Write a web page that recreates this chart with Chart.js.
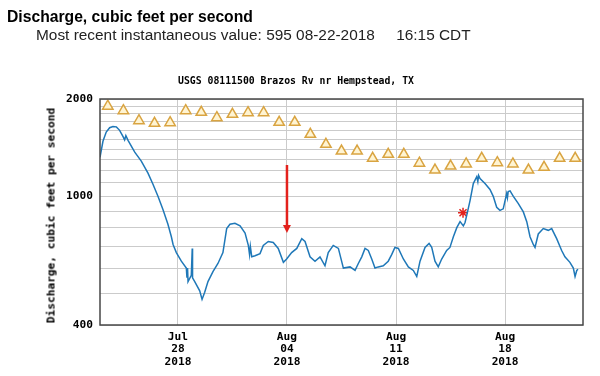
<!DOCTYPE html>
<html>
<head>
<meta charset="utf-8">
<script src="https://cdn.jsdelivr.net/npm/chart.js@4.4.1/dist/chart.umd.min.js"></script>
<style>
  body { margin: 0; background: #fff; }
  #wrap { position: relative; width: 600px; height: 376px; overflow: hidden; }
  #chart { position: absolute; left: 0; top: 0; }
  .txt { position: absolute; white-space: pre; color: #000; }
  #h1 { left: 7px; top: 9.4px; font: bold 15.7px/15.7px "Liberation Sans", Arial, sans-serif; }
  #h2 { left: 36px; top: 27px; font: 15.4px/15.4px "Liberation Sans", Arial, sans-serif; color: #222; }
  #ttl { left: 178px; top: 74.6px; font: bold 9.8px/12px "DejaVu Sans Mono", monospace; }
  #ytl { left: -57px; top: 208.5px; width: 216px; height: 13px; text-align: center;
         font: bold 11.2px/13px "DejaVu Sans Mono", monospace; transform: rotate(-90deg); }
</style>
</head>
<body>
<div id="wrap">
  <canvas id="chart" width="600" height="376"></canvas>
  <div class="txt" id="h1">Discharge, cubic feet per second</div>
  <div class="txt" id="h2">Most recent instantaneous value: 595 08-22-2018     16:15 CDT</div>
  <div class="txt" id="ttl">USGS 08111500 Brazos Rv nr Hempstead, TX</div>
  <div class="txt" id="ytl">Discharge, cubic feet per second</div>
</div>
<script>
// time is in days since Jul 23 2018 00:00 CDT
const times = [
  0.00, 0.19, 0.40, 0.62, 0.83, 1.05, 1.26, 1.48, 1.58, 1.66, 1.80, 2.23,
  2.65, 3.08, 3.40, 3.72, 4.04, 4.36, 4.58, 4.69, 4.90, 5.22,
  5.54, 5.58, 5.62, 5.65, 5.86, 5.92, 5.94, 6.08, 6.40, 6.55, 6.72, 6.93,
  7.25, 7.57, 7.89, 8.13, 8.34, 8.66, 8.99, 9.31, 9.52, 9.60, 9.65, 9.74,
  9.95, 10.27, 10.48, 10.80, 11.12, 11.44, 11.77, 11.98, 12.30, 12.63,
  12.95, 13.16, 13.48, 13.80, 14.12, 14.44, 14.65, 14.97, 15.30, 15.62,
  16.05, 16.37, 16.58, 16.80, 17.01, 17.22, 17.44, 17.65, 17.86, 18.18,
  18.50, 18.72, 18.93, 19.15, 19.47, 19.79, 20.11, 20.33, 20.54, 20.86,
  21.12, 21.29, 21.50, 21.71, 21.93, 22.25, 22.46, 22.68, 22.90, 23.11,
  23.32, 23.43, 23.54, 23.75, 23.96, 24.18, 24.25, 24.30, 24.39, 24.71, 25.03, 25.24,
  25.46, 25.67, 25.88, 26.10, 26.15, 26.20, 26.32, 26.53, 26.85, 27.17, 27.39, 27.60,
  27.81, 27.92, 28.13, 28.45, 28.77, 28.99, 29.31, 29.63, 29.84, 30.16,
  30.38, 30.49, 30.60, 30.68
];
const flows = [
  1320, 1480, 1580, 1630, 1645, 1640, 1600, 1530, 1495, 1540, 1490, 1370,
  1285, 1180, 1090, 1000, 910, 820, 750, 710, 670, 630,
  600, 560, 600, 545, 570, 690, 560, 545, 510, 480, 505, 545,
  585, 620, 670, 795, 820, 825, 810, 770, 705, 660, 700, 650,
  655, 665, 705, 725, 720, 690, 625, 640, 670, 690,
  740, 725, 650, 630, 650, 610, 670, 705, 690, 600,
  605, 590, 620, 650, 690, 680, 640, 600, 605, 610,
  630, 660, 695, 690, 640, 605, 590, 565, 630, 695,
  715, 695, 630, 605, 640, 680, 695, 750, 800, 835,
  810, 830, 875, 970, 1095, 1150, 1110, 1160, 1135, 1095, 1050, 1000,
  925, 905, 915, 1020, 990, 1035, 1040, 1000, 950, 895, 835, 750,
  710, 695, 765, 795, 785, 795, 740, 680, 650, 625,
  600, 565, 590, 595
];

// daily median flow (triangles), plotted at noon Jul 23 .. Aug 22
const medianDays = [
  0.5, 1.5, 2.5, 3.5, 4.5, 5.5, 6.5, 7.5, 8.5, 9.5,
  10.5, 11.5, 12.5, 13.5, 14.5, 15.5, 16.5, 17.5, 18.5, 19.5,
  20.5, 21.5, 22.5, 23.5, 24.5, 25.5, 26.5, 27.5, 28.5, 29.5, 30.5
];
const medianFlows = [
  1900, 1840, 1714, 1682, 1690, 1840, 1819, 1751, 1794, 1814,
  1814, 1694, 1694, 1555, 1448, 1381, 1381, 1311, 1349, 1349,
  1266, 1206, 1241, 1259, 1311, 1271, 1259, 1206, 1230, 1311, 1311
];

// field measurement (red asterisk)
const measuredDay = [23.3];
const measuredFlow = [890];

// red arrow marker
const arrowDay = 12.0;
const arrowTop = 1250;
const arrowTip = 770;

const xTickDays = [5, 12, 19, 26];
const xTickLabels = [['Jul', '28', '2018'], ['Aug', '04', '2018'], ['Aug', '11', '2018'], ['Aug', '18', '2018']];
const yTickValues = [400, 500, 600, 700, 800, 900, 1000, 1100, 1200, 1300, 1400, 1500, 1600, 1700, 1800, 1900, 2000];
const yLabelled = [400, 1000, 2000];

const monoFont = { family: 'DejaVu Sans Mono', size: 11.2, weight: 'bold', lineHeight: 1.1 };
const gridColor = '#cbcbcb';

const framePlugin = {
  id: 'frameAndArrow',
  afterDatasetsDraw(chart) {
    const { ctx, chartArea: a, scales } = chart;
    ctx.save();
    // red arrow
    const x = scales.x.getPixelForValue(arrowDay);
    const y1 = scales.y.getPixelForValue(arrowTop);
    const y2 = scales.y.getPixelForValue(arrowTip);
    ctx.strokeStyle = '#e3211c';
    ctx.fillStyle = '#e3211c';
    ctx.lineWidth = 2.5;
    ctx.beginPath();
    ctx.moveTo(x, y1);
    ctx.lineTo(x, y2 - 7);
    ctx.stroke();
    ctx.beginPath();
    ctx.moveTo(x - 4, y2 - 8);
    ctx.lineTo(x + 4, y2 - 8);
    ctx.lineTo(x, y2);
    ctx.closePath();
    ctx.fill();
    // plot frame
    ctx.strokeStyle = '#474747';
    ctx.lineWidth = 1.5;
    ctx.strokeRect(a.left, a.top, a.right - a.left, a.bottom - a.top);
    ctx.restore();
  }
};

new Chart(document.getElementById('chart'), {
  type: 'line',
  data: {
    datasets: [
      {
        data: medianDays.map((d, i) => ({ x: d, y: medianFlows[i] })),
        showLine: false,
        pointStyle: 'triangle',
        pointRadius: 6,
        pointBorderWidth: 1.5,
        pointBorderColor: '#d9a441',
        pointBackgroundColor: '#fff4d2'
      },
      {
        data: times.map((t, i) => ({ x: t, y: flows[i] })),
        borderColor: '#1f78b8',
        borderWidth: 1.5,
        pointRadius: 0,
        tension: 0
      },
      {
        data: measuredDay.map((d, i) => ({ x: d, y: measuredFlow[i] })),
        showLine: false,
        pointStyle: 'star',
        pointRadius: 5,
        pointBorderWidth: 1.5,
        pointBorderColor: '#e3211c'
      }
    ]
  },
  options: {
    responsive: false,
    animation: false,
    devicePixelRatio: 1,
    layout: { padding: { left: 0, top: 99, right: 17, bottom: 0 } },
    plugins: { legend: { display: false }, tooltip: { enabled: false } },
    scales: {
      x: {
        type: 'linear',
        min: 0,
        max: 31,
        afterBuildTicks: (s) => { s.ticks = xTickDays.map(v => ({ value: v })); },
        afterFit: (s) => { s.height = 51; },
        ticks: {
          autoSkip: false,
          maxRotation: 0,
          padding: 6,
          color: '#000',
          font: monoFont,
          callback: (v) => xTickLabels[xTickDays.indexOf(v)]
        },
        grid: { color: gridColor, drawTicks: false },
        border: { display: false }
      },
      y: {
        type: 'logarithmic',
        min: 400,
        max: 2000,
        afterBuildTicks: (s) => { s.ticks = yTickValues.map(v => ({ value: v })); },
        afterFit: (s) => { s.width = 100; },
        ticks: {
          autoSkip: false,
          padding: 7,
          color: '#000',
          font: monoFont,
          callback: (v) => yLabelled.includes(v) ? String(v) : ''
        },
        grid: { color: gridColor, drawTicks: false },
        border: { display: false }
      }
    }
  },
  plugins: [framePlugin]
});
</script>
</body>
</html>
